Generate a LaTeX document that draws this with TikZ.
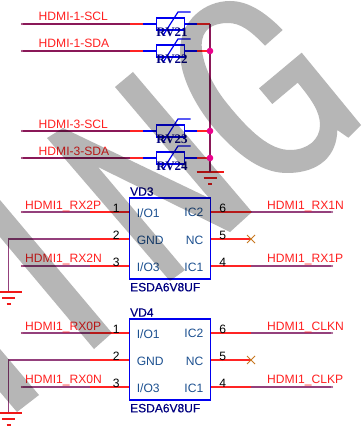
\documentclass[tikz,border=0pt]{standalone}
\usepackage{fontspec}
\setmainfont{Liberation Sans}
\newfontfamily\rvfont{Liberation Serif}
\newfontfamily\partfont[FakeBold=0.5]{Liberation Sans}
\definecolor{wmaroon}{HTML}{8A1858}
\definecolor{wpurple}{HTML}{94407C}
\definecolor{wred}{HTML}{FF2424}
\definecolor{wblue}{HTML}{0000F0}
\definecolor{wnavy}{HTML}{000080}
\definecolor{wsteel}{HTML}{1C5090}
\definecolor{wgnd}{HTML}{F01818}
\definecolor{wgray}{HTML}{B6B6B6}
\definecolor{wcross}{HTML}{C87820}
\definecolor{wtext}{HTML}{FF2020}
\tikzset{
  lab/.style={inner sep=0pt,font=\fontsize{12.1}{12.1}\selectfont},
  netlab/.style={lab,text=wtext,anchor=base west},
  pinnum/.style={lab,text=black,anchor=base},
  partlab/.style={inner sep=0pt,text=wnavy,anchor=base west,font=\partfont\fontsize{12}{12}\selectfont},
  innerl/.style={lab,text=wsteel,anchor=west},
  innerr/.style={lab,text=wsteel,anchor=east},
  rvlab/.style={inner sep=0pt,text=wnavy,anchor=base,font=\rvfont\bfseries\fontsize{13}{13}\selectfont},
  wireA/.style={draw=wmaroon,line width=1.3pt},
  wireB/.style={draw=wpurple,line width=1.3pt},
  wireR/.style={draw=wred,line width=1.4pt},
  wireU/.style={draw=wblue,line width=1.3pt},
  bodyU/.style={draw=wblue,line width=1.3pt,fill=none},
  gndline/.style={draw=wgnd,line width=1.1pt},
  junction/.style={circle,fill=magenta,inner sep=0pt,minimum size=6.6pt},
  wirend/.style={circle,fill=wmaroon,inner sep=0pt,minimum size=2.4pt},
}
% RV part: name, y of wire, label
\newcommand{\rvpart}[3]{%
  \node[wirend] (#1s) at (22,#2) {};
  \coordinate (#1a) at (130,#2);
  \coordinate (#1b) at (143,#2);
  \node[bodyU,minimum width=27.5pt,minimum height=12pt,inner sep=0pt,rectangle] (#1box) at (170.5,#2) {};
  \coordinate (#1c) at (197,#2);
  \coordinate (#1e) at (210,#2);
  \draw[wireA] (#1s) -- (#1a);
  \draw[wireR] (#1a) -- (#1b);
  \draw[wireU] (#1b) -- (#1box.west |- #1b);
  \draw[wireU] (#1box.east |- #1c) -- (#1c);
  \draw[wireR] (#1c) -- (#1e);
  \draw[wblue,line width=1.2pt] (163,#2+11.5) -- (178,#2-12) -- (190.7,#2-12);
  \node[rvlab] (#1lab) at (172,#2+12.2) {#3};
}
% ground: name, anchor coordinate x, y
\newcommand{\gndsym}[3]{%
  \coordinate (#1) at (#2,#3);
  \draw[gndline] (#2-13.5,#3) -- (#2+13.5,#3);
  \draw[gndline] (#2-6.5,#3+6) -- (#2+6.5,#3+6);
  \draw[gndline] (#2-2,#3+12) -- (#2+2,#3+12);
}
% ESD part: name, y offset, refdes, six labels
\newcommand{\esdpart}[7]{%
  \begin{scope}[yshift=#2pt]
  \node[draw=wblue,line width=1.3pt,rectangle,inner sep=0pt,minimum width=81pt,minimum height=81pt] (#1) at (170.2,238.5) {};
  \node[partlab] (#1ref) at (130,195.7) {#3};
  \node[partlab] (#1val) at (130,291.3) {ESDA6V8UF};
  \node[innerl] (#1i1) at (136.6,212.8) {I/O1};
  \node[innerl] (#1i2) at (136.6,240) {GND};
  \node[innerl] (#1i3) at (136.6,267) {I/O3};
  \node[innerr] (#1o1) at (203.5,212.8) {IC2};
  \node[innerr] (#1o2) at (203.5,240) {NC};
  \node[innerr] (#1o3) at (203.5,267) {IC1};
  \coordinate (#1m1) at (90,212);
  \coordinate (#1m2) at (90,239);
  \coordinate (#1m3) at (90,266);
  \node[wirend] (#1s1) at (22,212) {};
  \node[wirend] (#1s3) at (22,266) {};
  \coordinate (#1c2) at (8.5,239);
  \coordinate (#1g) at (8.5,292);
  \draw[wireB] (#1s1) -- (#1m1);
  \draw[wireB] (#1g) -- (#1c2) -- (#1m2);
  \draw[wireB] (#1s3) -- (#1m3);
  \draw[wireR] (#1m1) -- (#1.west |- #1m1);
  \draw[wireR] (#1m2) -- (#1.west |- #1m2);
  \draw[wireR] (#1m3) -- (#1.west |- #1m3);
  \coordinate (#1r1) at (251,212);
  \coordinate (#1r2) at (251,239);
  \coordinate (#1r3) at (251,266);
  \node[wirend,fill=wpurple] (#1e1) at (332,212) {};
  \node[wirend,fill=wpurple] (#1e3) at (332,266) {};
  \draw[wireR] (#1.east |- #1r1) -- (#1r1);
  \draw[wireR] (#1.east |- #1r2) -- (#1r2);
  \draw[wireR] (#1.east |- #1r3) -- (#1r3);
  \draw[wireB] (#1r1) -- (#1e1);
  \draw[wireB] (#1r3) -- (#1e3);
  \draw[wcross,line width=.9pt] (247,235) -- (255,243) (247,243) -- (255,235);
  \node[pinnum] (#1p1) at (116.3,212) {1};
  \node[pinnum] (#1p2) at (116.3,239) {2};
  \node[pinnum] (#1p3) at (116.3,266) {3};
  \node[pinnum] (#1p6) at (222.7,212) {6};
  \node[pinnum] (#1p5) at (222.7,239) {5};
  \node[pinnum] (#1p4) at (222.7,266) {4};
  \node[netlab] (#1n1) at (25,209) {#4};
  \node[netlab] (#1n3) at (25,262.8) {#5};
  \node[netlab] (#1n6) at (267,209) {#6};
  \node[netlab] (#1n4) at (267,262.8) {#7};
  \gndsym{#1gg}{8.5}{292}
  \end{scope}
}
\begin{document}
\begin{tikzpicture}[x=1pt,y=-1pt]
\clip (0,0) rectangle (361,430);
\fill[white] (0,0) rectangle (361,430);

\rvpart{ra}{24}{RV21}
\rvpart{rb}{51}{RV22}
\rvpart{rc}{131}{RV23}
\rvpart{rd}{158}{RV24}
\node[netlab] (na) at (38.5,20.7) {HDMI-1-SCL};
\node[netlab] (nb) at (38.5,47.7) {HDMI-1-SDA};
\node[netlab] (nc) at (38.5,129) {HDMI-3-SCL};
\node[netlab] (nd) at (38.5,156) {HDMI-3-SDA};
\gndsym{topgnd}{210}{172}
\draw[wireA] (rae) -- (topgnd);
\node[junction] (jb) at (rbe) {};
\node[junction] (jc) at (rce) {};
\node[junction] (jd) at (rde) {};

\esdpart{vd}{0}{VD3}{HDMI1\_RX2P}{HDMI1\_RX2N}{HDMI1\_RX1N}{HDMI1\_RX1P}
\esdpart{ve}{-121}{VD4}{HDMI1\_RX0P}{HDMI1\_RX0N}{HDMI1\_CLKN}{HDMI1\_CLKP}

\begin{scope}[blend mode=multiply]
% G
\fill[wgray] (282.7,30) .. controls (265,12) and (248,1) .. (230,1)
  .. controls (205,1) and (180,20) .. (180,52)
  .. controls (180,80) and (200,115) .. (225,140)
  .. controls (245,160) and (265,173) .. (287,173)
  .. controls (320,173) and (337,155) .. (337.3,130)
  -- (348.3,137.7) -- (361,125) -- (301.7,52.7) -- (259,88.3) -- (272.3,104) -- (297.7,82.7)
  .. controls (312,100) and (320,112) .. (320,125)
  .. controls (320,140) and (307,150) .. (290,150)
  .. controls (270,150) and (250,132) .. (226.7,103)
  .. controls (212,85) and (201.7,62) .. (201.7,45)
  .. controls (201.7,30) and (212,23) .. (228,23)
  .. controls (240,23) and (250,30) .. (265,45.7) -- cycle;
% N
\fill[wgray] (133,72) -- (252,212) -- (230,232) -- (98,167) -- (185,270) -- (170,281)
  -- (47,138) -- (63,128) -- (209,198) -- (115,87) -- cycle;
% remaining strokes
\fill[wgray] (0,200) -- (112,333) -- (94,349) -- (0,237) -- cycle;
\fill[wgray] (0,349) -- (39,395) -- (17,412) -- (0,392) -- cycle;
\end{scope}
\end{tikzpicture}
\end{document}
